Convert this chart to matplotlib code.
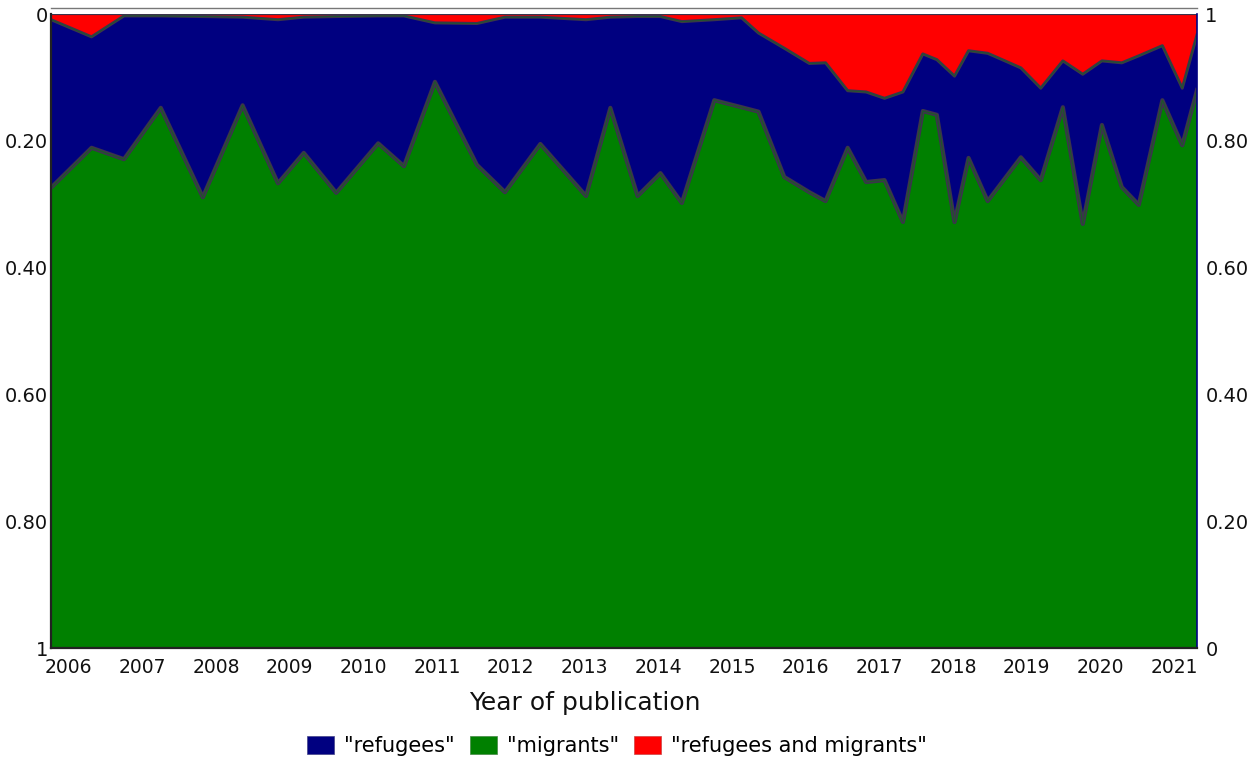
import numpy as np
import matplotlib
matplotlib.use("Agg")
import matplotlib.pyplot as plt
from matplotlib.patches import Patch
from matplotlib.ticker import FixedLocator, FuncFormatter

# Publication date (decimal years) of each data point
years = [2005.76, 2006.31, 2006.75, 2007.25, 2007.82, 2008.36, 2008.84, 2009.19,
         2009.63, 2010.20, 2010.55, 2010.97, 2011.54, 2011.92, 2012.40, 2013.02,
         2013.35, 2013.72, 2014.03, 2014.32, 2014.76, 2015.13, 2015.36, 2015.71,
         2016.05, 2016.27, 2016.57, 2016.82, 2017.07, 2017.32, 2017.59, 2017.78,
         2018.02, 2018.21, 2018.47, 2018.92, 2019.19, 2019.49, 2019.76, 2020.02,
         2020.29, 2020.52, 2020.84, 2021.11, 2021.31]

# Shares of each term
migrants = [0.726, 0.789, 0.771, 0.852, 0.711, 0.856, 0.733, 0.781, 0.718, 0.796,
            0.760, 0.893, 0.762, 0.719, 0.795, 0.713, 0.852, 0.713, 0.749, 0.702,
            0.864, 0.853, 0.846, 0.743, 0.719, 0.705, 0.789, 0.735, 0.738, 0.672,
            0.847, 0.841, 0.672, 0.773, 0.705, 0.774, 0.738, 0.853, 0.669, 0.825,
            0.727, 0.699, 0.864, 0.793, 0.880]
refugees = [0.265, 0.175, 0.226, 0.145, 0.285, 0.139, 0.258, 0.214, 0.278, 0.201,
            0.237, 0.093, 0.223, 0.276, 0.200, 0.278, 0.143, 0.283, 0.247, 0.286,
            0.127, 0.141, 0.124, 0.203, 0.203, 0.218, 0.090, 0.142, 0.129, 0.205,
            0.090, 0.087, 0.230, 0.169, 0.233, 0.141, 0.145, 0.073, 0.236, 0.101,
            0.196, 0.235, 0.086, 0.090, 0.087]
both = [0.009, 0.036, 0.003, 0.003, 0.004, 0.005, 0.009, 0.005, 0.004, 0.003,
        0.003, 0.014, 0.015, 0.005, 0.005, 0.009, 0.005, 0.004, 0.004, 0.012,
        0.009, 0.006, 0.030, 0.054, 0.078, 0.077, 0.121, 0.123, 0.133, 0.123,
        0.063, 0.072, 0.098, 0.058, 0.062, 0.085, 0.117, 0.074, 0.095, 0.074,
        0.077, 0.066, 0.050, 0.117, 0.033]

year_ticks = list(range(2006, 2022))
share_ticks = [0, 0.2, 0.4, 0.6, 0.8, 1.0]
labels = ['"refugees"', '"migrants"', '"refugees and migrants"']

C_REF = "#000080"
C_MIG = "#008000"
C_BOTH = "#ff0000"
C_LINE = "#3b344c"

x = np.array(years)
m = np.array(migrants)
r = np.array(refugees)
b = np.array(both)

fig = plt.figure(figsize=(12.53, 7.62), dpi=100)
ax = fig.add_axes([51 / 1253, 1 - 648 / 762, (1197 - 51) / 1253, (648 - 14) / 762])

ax.stackplot(x, m, r, b, colors=[C_MIG, C_REF, C_BOTH], linewidth=0)
ax.plot(x, m + r + b, color=C_LINE, lw=1.6, solid_joinstyle="round")
ax.plot(x, m + r, color=C_LINE, lw=2.2, solid_joinstyle="round")
ax.plot(x, m + r, color=C_MIG, lw=0.5, solid_joinstyle="round", alpha=0.6)
ax.plot(x, m, color=C_LINE, lw=3.0, solid_joinstyle="round")
ax.plot(x, m, color=C_MIG, lw=0.6, solid_joinstyle="round", alpha=0.6)

ax.set_xlim(x[0], x[-1])
ax.set_ylim(0, 1)

fmt = FuncFormatter(lambda v, p: "0" if abs(v) < 1e-9 else ("1" if abs(v - 1) < 1e-9 else f"{v:.2f}"))

# left axis: 0 (top) -> 1 (bottom)
axl = ax.twinx()
axl.set_ylim(1, 0)
axl.yaxis.tick_left()
axl.yaxis.set_major_locator(FixedLocator(share_ticks))
axl.yaxis.set_major_formatter(fmt)
axl.tick_params(axis="y", length=0, pad=2, labelsize=14, colors="#111111")
for s in axl.spines.values():
    s.set_visible(False)

# right axis: 0 (bottom) -> 1 (top)
ax.yaxis.tick_right()
ax.yaxis.set_major_locator(FixedLocator(share_ticks))
ax.yaxis.set_major_formatter(fmt)
ax.tick_params(axis="y", length=0, pad=6, labelsize=14, colors="#111111")

ax.xaxis.set_major_locator(FixedLocator(year_ticks))
ax.xaxis.set_major_formatter(FuncFormatter(lambda v, p: f"{int(round(v))}"))
ax.tick_params(axis="x", length=0, pad=7, labelsize=13.5, colors="#111111")
ax.set_xlabel("Year of publication", fontsize=18, color="#111111")
ax.xaxis.set_label_coords((585 - 51) / 1146, -0.068)

ax.spines["left"].set_color("#222222")
ax.spines["left"].set_linewidth(1.6)
ax.spines["bottom"].set_color("#222222")
ax.spines["bottom"].set_linewidth(1.6)
ax.spines["right"].set_color(C_REF)
ax.spines["right"].set_linewidth(1.2)
ax.spines["top"].set_color("#777777")
ax.spines["top"].set_linewidth(1.0)
ax.spines["top"].set_position(("outward", 4))

handles = [Patch(facecolor=C_REF, edgecolor="#444488", lw=0.5),
           Patch(facecolor=C_MIG, edgecolor="#448844", lw=0.5),
           Patch(facecolor=C_BOTH, edgecolor="#cc4444", lw=0.5)]
fig.legend(handles, labels, loc="center", bbox_to_anchor=(617 / 1253, 1 - 746 / 762),
           ncol=3, frameon=False, fontsize=15, handlelength=1.3, handleheight=1.0,
           handletextpad=0.5, columnspacing=0.7)

fig.savefig("out.png", dpi=100)
